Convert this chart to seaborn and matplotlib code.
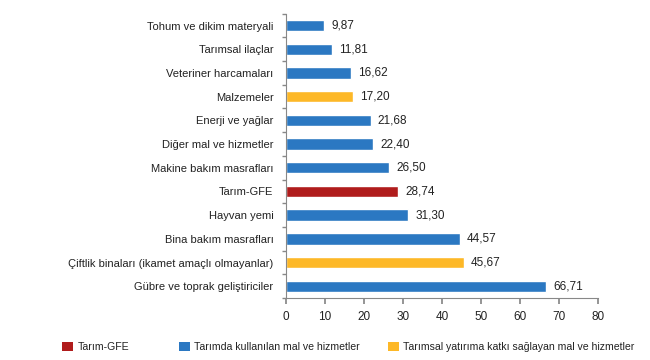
import matplotlib
matplotlib.use("Agg")
import matplotlib.pyplot as plt
import seaborn as sns
import pandas as pd
import numpy as np
from matplotlib.patches import Patch

categories = ["Tohum ve dikim materyali", "Tarımsal ilaçlar", "Veteriner harcamaları",
              "Malzemeler", "Enerji ve yağlar", "Diğer mal ve hizmetler",
              "Makine bakım masrafları", "Tarım-GFE", "Hayvan yemi",
              "Bina bakım masrafları", "Çiftlik binaları (ikamet amaçlı olmayanlar)",
              "Gübre ve toprak geliştiriciler"]
values = [9.87, 11.81, 16.62, 17.20, 21.68, 22.40, 26.50, 28.74, 31.30, 44.57, 45.67, 66.71]
groups = ["Tarımda kullanılan mal ve hizmetler", "Tarımda kullanılan mal ve hizmetler",
          "Tarımda kullanılan mal ve hizmetler",
          "Tarımsal yatırıma katkı sağlayan mal ve hizmetler",
          "Tarımda kullanılan mal ve hizmetler", "Tarımda kullanılan mal ve hizmetler",
          "Tarımda kullanılan mal ve hizmetler", "Tarım-GFE",
          "Tarımda kullanılan mal ve hizmetler", "Tarımda kullanılan mal ve hizmetler",
          "Tarımsal yatırıma katkı sağlayan mal ve hizmetler",
          "Tarımda kullanılan mal ve hizmetler"]
legend_labels = ["Tarım-GFE", "Tarımda kullanılan mal ve hizmetler",
                 "Tarımsal yatırıma katkı sağlayan mal ve hizmetler"]
xticks = [0, 10, 20, 30, 40, 50, 60, 70, 80]

colors = {"Tarım-GFE": "#B01C1C",
          "Tarımda kullanılan mal ve hizmetler": "#2B78C2",
          "Tarımsal yatırıma katkı sağlayan mal ve hizmetler": "#FDB827"}

sns.set_theme(style="white")
plt.rcParams['font.family'] = ['Liberation Sans', 'DejaVu Sans']

df = pd.DataFrame({"cat": categories, "val": values, "grp": groups})

W, H = 650, 360
fig = plt.figure(figsize=(6.5, 3.6), dpi=100)
ax = fig.add_axes([0.44, 0.172, 0.48, 0.79])
sns.barplot(data=df, y="cat", x="val", hue="grp", palette=colors, dodge=False,
            width=0.48, legend=False, ax=ax, orient="h", order=categories, saturation=1)

for i, v in enumerate(values):
    ax.text(v + 1.8, i, f"{v:.2f}".replace(".", ","), va="center", ha="left",
            fontsize=8.5, color="#222222")

ax.set_xlim(0, 80)
ax.set_ylim(len(categories) - 0.5, -0.5)
ax.set_xticks(xticks)
ax.set_xticklabels([str(t) for t in xticks], fontsize=8.5, color="#222222")
ax.set_xlabel("")
ax.set_ylabel("")
ax.tick_params(axis="y", which="major", length=0, labelsize=8, labelcolor="#222222", pad=9)
ax.set_yticks(np.arange(-0.5, len(categories), 1), minor=True)
ax.tick_params(axis="y", which="minor", length=3, color="#888888", direction="out", left=True)
ax.tick_params(axis="x", which="major", length=4, color="#888888", direction="out", bottom=True, pad=5)
for s in ["top", "right"]:
    ax.spines[s].set_visible(False)
for s in ["left", "bottom"]:
    ax.spines[s].set_color("#888888")
    ax.spines[s].set_linewidth(0.8)

# legend entries placed at the reference's positions (left edge of each square, in px)
leg_x = [62, 179, 388]
for lab, x0 in zip(legend_labels, leg_x):
    leg = fig.legend([Patch(facecolor=colors[lab], edgecolor="none")], [lab],
                     loc="center left", bbox_to_anchor=(x0 / W, 1 - 347 / H),
                     frameon=False, fontsize=7.6, handlelength=1.0, handleheight=1.0,
                     handletextpad=0.45, borderpad=0, borderaxespad=0)
    for t in leg.get_texts():
        t.set_color("#222222")

fig.savefig("out.png", dpi=100, facecolor="white")
